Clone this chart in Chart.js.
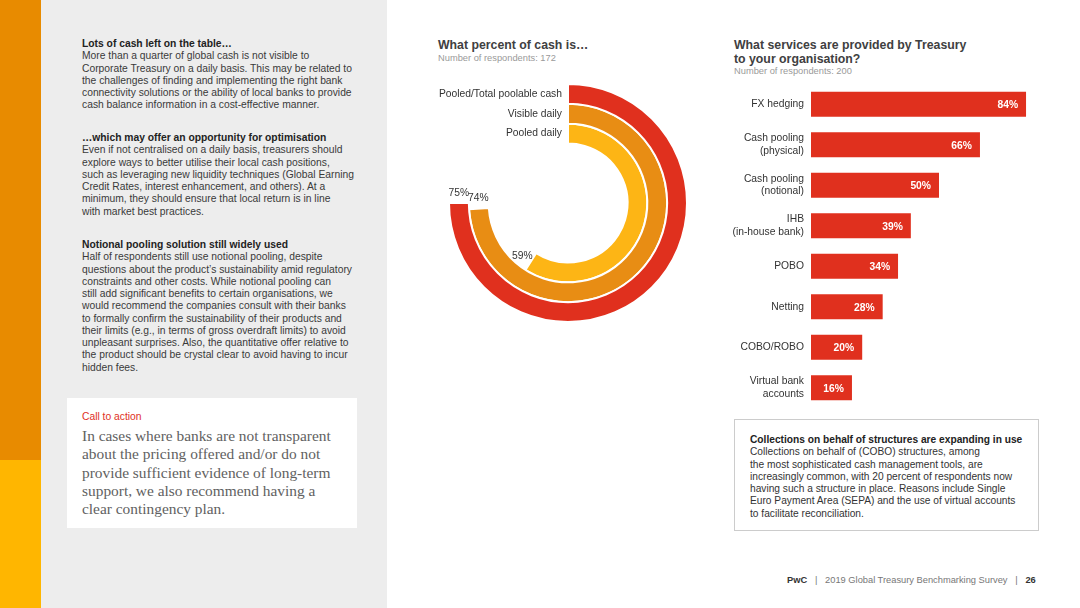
<!DOCTYPE html>
<html>
<head>
<meta charset="utf-8">
<script src="https://cdn.jsdelivr.net/npm/chart.js@4/dist/chart.umd.min.js"></script>
<style>
  html, body { margin: 0; padding: 0; }
  body { width: 1080px; height: 608px; position: relative; overflow: hidden; background: #fff;
         font-family: "Liberation Sans", Arial, Helvetica, sans-serif; color: #3a3a3a; }
  .abs { position: absolute; }
  .strip-top { left: 0; top: 0; width: 41px; height: 460px; background: #E88B00; }
  .strip-bot { left: 0; top: 460px; width: 41px; height: 148px; background: #FFB600; }
  .panel { left: 41px; top: 0; width: 346px; height: 608px; background: #EDEDED; }
  .para { left: 82px; font-size: 10.3px; line-height: 12.25px; white-space: nowrap; }
  .para b { color: #222; }
  .cta { left: 67px; top: 398px; width: 290px; height: 130px; background: #fff; }
  .cta-head { left: 82px; top: 411px; font-size: 10.3px; line-height: 12px; color: #E0301E; }
  .cta-body { left: 82px; top: 427px; font-family: "Liberation Serif", "Times New Roman", serif;
              font-size: 15.4px; line-height: 18.3px; color: #616161; white-space: nowrap; }
  .title { font-weight: bold; font-size: 12.3px; line-height: 14px; color: #404041; white-space: nowrap; }
  .sub { font-size: 9.3px; line-height: 11px; color: #9a9a9a; white-space: nowrap; }
  .box { left: 734px; top: 419px; width: 303px; height: 110px; border: 1px solid #cccccc; }
  .box-text { left: 750px; top: 434px; font-size: 10.2px; line-height: 12.3px; white-space: nowrap; color: #333; }
  .footer { left: 787px; top: 574px; font-size: 9.3px; line-height: 12px; color: #777; white-space: nowrap; }
  .footer b { color: #333; }
  canvas { position: absolute; }
</style>
</head>
<body>
<div class="abs strip-top"></div>
<div class="abs strip-bot"></div>
<div class="abs panel"></div>

<div class="abs para" style="top:38px"><b>Lots of cash left on the table…</b><br>More than a quarter of global cash is not visible to<br>Corporate Treasury on a daily basis. This may be related to<br>the challenges of finding and implementing the right bank<br>connectivity solutions or the ability of local banks to provide<br>cash balance information in a cost-effective manner.</div>
<div class="abs para" style="top:132px"><b>…which may offer an opportunity for optimisation</b><br>Even if not centralised on a daily basis, treasurers should<br>explore ways to better utilise their local cash positions,<br>such as leveraging new liquidity techniques (Global Earning<br>Credit Rates, interest enhancement, and others). At a<br>minimum, they should ensure that local return is in line<br>with market best practices.</div>
<div class="abs para" style="top:239px"><b>Notional pooling solution still widely used</b><br>Half of respondents still use notional pooling, despite<br>questions about the product’s sustainability amid regulatory<br>constraints and other costs. While notional pooling can<br>still add significant benefits to certain organisations, we<br>would recommend the companies consult with their banks<br>to formally confirm the sustainability of their products and<br>their limits (e.g., in terms of gross overdraft limits) to avoid<br>unpleasant surprises. Also, the quantitative offer relative to<br>the product should be crystal clear to avoid having to incur<br>hidden fees.</div>

<div class="abs cta"></div>
<div class="abs cta-head">Call to action</div>
<div class="abs cta-body">In cases where banks are not transparent<br>about the pricing offered and/or do not<br>provide sufficient evidence of long-term<br>support, we also recommend having a<br>clear contingency plan.</div>

<div class="abs title" style="left:438px; top:38px">What percent of cash is…</div>
<div class="abs sub" style="left:438px; top:53px">Number of respondents: 172</div>

<div class="abs title" style="left:734px; top:38px">What services are provided by Treasury<br>to your organisation?</div>
<div class="abs sub" style="left:734px; top:66px">Number of respondents: 200</div>

<canvas id="ringChart" width="296" height="240" style="left:420px; top:83px"></canvas>
<canvas id="serviceChart" width="347" height="324" style="left:720px; top:84px"></canvas>

<div class="abs box"></div>
<div class="abs box-text"><b style="color:#222">Collections on behalf of structures are expanding in use</b><br>Collections on behalf of (COBO) structures, among<br>the most sophisticated cash management tools, are<br>increasingly common, with 20 percent of respondents now<br>having such a structure in place. Reasons include Single<br>Euro Payment Area (SEPA) and the use of virtual accounts<br>to facilitate reconciliation.</div>

<div class="abs footer"><b>PwC</b> &nbsp;&nbsp;|&nbsp;&nbsp; 2019 Global Treasury Benchmarking Survey &nbsp;&nbsp;|&nbsp;&nbsp; <b>26</b></div>

<script>
// --- Data ---
const ringNames = ['Pooled/Total poolable cash', 'Visible daily', 'Pooled daily'];
const ringValues = [75, 74, 59];
const ringColors = ['#E0301E', '#E88D14', '#FDB515'];

const serviceLabels = [
    'FX hedging',
    ['Cash pooling', '(physical)'],
    ['Cash pooling', '(notional)'],
    ['IHB', '(in-house bank)'],
    'POBO',
    'Netting',
    'COBO/ROBO',
    ['Virtual bank', 'accounts']
];
const serviceValues = [84, 66, 50, 39, 34, 28, 20, 16];

const FONT = '"Liberation Sans", Arial, Helvetica, sans-serif';

// --- Radial rings ---
const ringLabelPlugin = {
    id: 'ringLabels',
    afterDatasetsDraw(chart) {
        const ctx = chart.ctx;
        ctx.save();
        ctx.font = '10.3px ' + FONT;
        ctx.fillStyle = '#333';
        ctx.textBaseline = 'middle';
        chart.data.datasets.forEach((ds, i) => {
            const arc = chart.getDatasetMeta(i).data[0];
            const p = arc.getProps(['x', 'y', 'innerRadius', 'outerRadius', 'endAngle'], true);
            const r = (p.innerRadius + p.outerRadius) / 2;
            // ring name, left of where the ring starts (12 o'clock)
            ctx.textAlign = 'right';
            ctx.fillText(ringNames[i], p.x - 6, p.y - r);
            // value, just past the ring's end
            const a = p.endAngle;
            const lx = p.x + r * Math.cos(a) - 10 * Math.sin(a);
            const ly = p.y + r * Math.sin(a) + 10 * Math.cos(a);
            ctx.textAlign = 'center';
            ctx.fillText(ringValues[i] + '%', lx, ly);
        });
        ctx.restore();
    }
};

new Chart(document.getElementById('ringChart'), {
    type: 'doughnut',
    data: {
        datasets: ringValues.map((v, i) => ({
            data: [v, 100 - v],
            backgroundColor: [ringColors[i], 'rgba(0,0,0,0)'],
            borderColor: '#fff',
            borderWidth: [2, 0]
        }))
    },
    options: {
        responsive: false,
        animation: false,
        events: [],
        cutout: '50%',
        layout: { padding: 0 },
        plugins: { legend: { display: false }, tooltip: { enabled: false } }
    },
    plugins: [ringLabelPlugin]
});

// --- Services bar chart ---
// category names and values are drawn beside / inside each bar
const barTextPlugin = {
    id: 'barText',
    afterDatasetsDraw(chart) {
        const ctx = chart.ctx;
        const left = chart.chartArea.left;
        ctx.save();
        ctx.textBaseline = 'middle';
        ctx.textAlign = 'right';
        chart.getDatasetMeta(0).data.forEach((bar, i) => {
            ctx.font = 'bold 10.3px ' + FONT;
            ctx.fillStyle = '#fff';
            ctx.fillText(serviceValues[i] + '%', bar.x - 8, bar.y + 1);

            const lines = [].concat(serviceLabels[i]);
            const lh = 12.3;
            ctx.font = '10.3px ' + FONT;
            ctx.fillStyle = '#333';
            lines.forEach((t, k) => {
                ctx.fillText(t, left - 7, bar.y + (k - (lines.length - 1) / 2) * lh);
            });
        });
        ctx.restore();
    }
};

new Chart(document.getElementById('serviceChart'), {
    type: 'bar',
    data: {
        labels: serviceLabels,
        datasets: [{
            data: serviceValues,
            backgroundColor: '#E0301E',
            categoryPercentage: 0.62,
            barPercentage: 1
        }]
    },
    options: {
        indexAxis: 'y',
        responsive: false,
        animation: false,
        events: [],
        layout: { padding: { left: 91, right: 0, top: 0, bottom: 0 } },
        plugins: { legend: { display: false }, tooltip: { enabled: false } },
        scales: {
            x: { display: false, min: 0, max: 100 },
            y: { display: false }
        }
    },
    plugins: [barTextPlugin]
});
</script>
</body>
</html>
